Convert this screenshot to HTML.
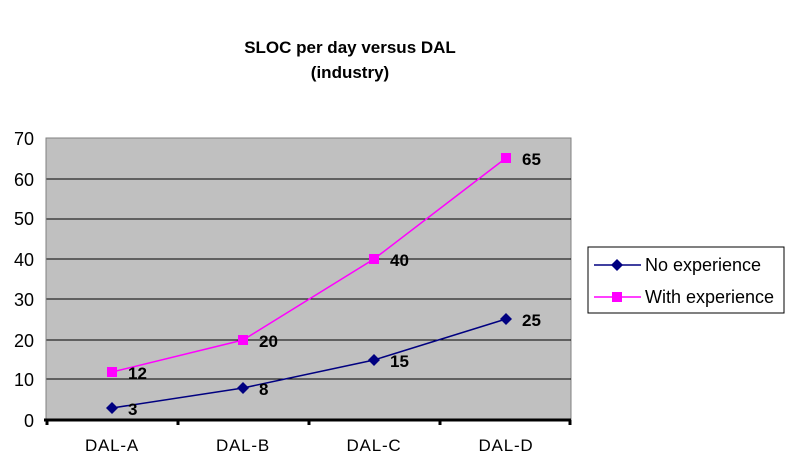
<!DOCTYPE html>
<html><head><style>
body{margin:0;background:#fff;}
svg{display:block;font-family:"Liberation Sans",Arial,sans-serif;}
</style></head><body>
<svg width="787" height="464" viewBox="0 0 787 464">
<text x="350" y="53" font-size="17" font-weight="bold" text-anchor="middle">SLOC per day  versus DAL</text>
<text x="350" y="78" font-size="17" font-weight="bold" text-anchor="middle">(industry)</text>
<rect x="46" y="138" width="525" height="282" fill="#c0c0c0" stroke="#808080" stroke-width="1"/>
<g stroke="#000" stroke-width="1">
<line x1="46" y1="179" x2="571" y2="179"/><line x1="46" y1="219" x2="571" y2="219"/>
<line x1="46" y1="259" x2="571" y2="259"/><line x1="46" y1="299" x2="571" y2="299"/>
<line x1="46" y1="340" x2="571" y2="340"/><line x1="46" y1="379" x2="571" y2="379"/>
</g>
<line x1="46" y1="138" x2="46" y2="420" stroke="#808080"/>
<line x1="44" y1="420" x2="571" y2="420" stroke="#000" stroke-width="3"/>
<g stroke="#000" stroke-width="3">
<line x1="47" y1="420" x2="47" y2="425"/><line x1="178" y1="420" x2="178" y2="425"/>
<line x1="309" y1="420" x2="309" y2="425"/><line x1="440" y1="420" x2="440" y2="425"/><line x1="570" y1="420" x2="570" y2="425"/>
</g>
<g font-size="18" text-anchor="end" fill="#000">
<text x="34" y="145">70</text><text x="34" y="186">60</text><text x="34" y="225">50</text>
<text x="34" y="266">40</text><text x="34" y="306">30</text><text x="34" y="347">20</text>
<text x="34" y="386">10</text><text x="34" y="427">0</text>
</g>
<g font-size="17" text-anchor="middle" letter-spacing="0.8">
<text x="112" y="451">DAL-A</text><text x="243" y="451">DAL-B</text>
<text x="374" y="451">DAL-C</text><text x="506" y="451">DAL-D</text>
</g>
<polyline points="112,372 243,340 374,259 506,158" fill="none" stroke="#ff00ff" stroke-width="1.5"/>
<polyline points="112,408 243,388 374,360 506,319" fill="none" stroke="#000080" stroke-width="1.5"/>
<g fill="#ff00ff">
<rect x="107" y="367" width="10" height="10"/><rect x="238" y="335" width="10" height="10"/>
<rect x="369" y="254" width="10" height="10"/><rect x="501" y="153" width="10" height="10"/>
</g>
<g fill="#000080">
<polygon points="112,402 118,408 112,414 106,408"/><polygon points="243,382 249,388 243,394 237,388"/>
<polygon points="374,354 380,360 374,366 368,360"/><polygon points="506,313 512,319 506,325 500,319"/>
</g>
<g font-size="17" font-weight="bold">
<text x="128" y="379">12</text><text x="259" y="347">20</text><text x="390" y="266">40</text><text x="522" y="165">65</text>
<text x="128" y="415">3</text><text x="259" y="395">8</text><text x="390" y="367">15</text><text x="522" y="326">25</text>
</g>
<rect x="588" y="247" width="196" height="66" fill="#fff" stroke="#000"/>
<line x1="594" y1="265" x2="641" y2="265" stroke="#000080" stroke-width="1.5"/>
<polygon points="617,259 623,265 617,271 611,265" fill="#000080"/>
<line x1="594" y1="297" x2="641" y2="297" stroke="#ff00ff" stroke-width="1.5"/>
<rect x="612" y="292" width="10" height="10" fill="#ff00ff"/>
<text x="645" y="271" font-size="18">No experience</text>
<text x="645" y="303" font-size="18">With experience</text>
</svg>
</body></html>
